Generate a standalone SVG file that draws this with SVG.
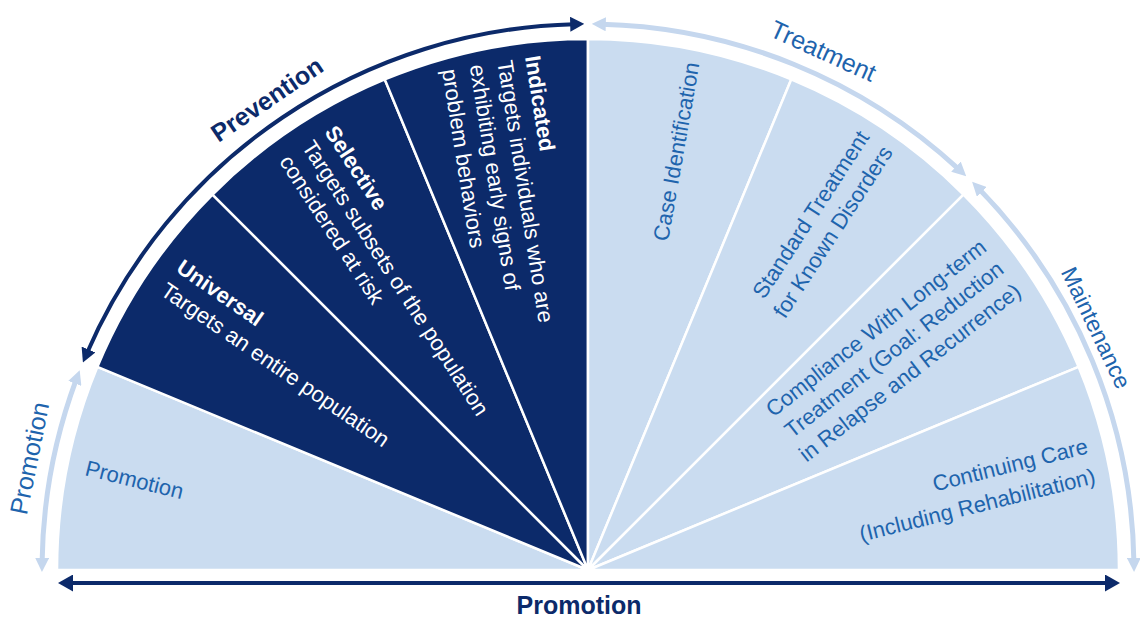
<svg xmlns="http://www.w3.org/2000/svg" width="1140" height="617" viewBox="0 0 1140 617">
<style>
  .dark { fill: #0c2a6a; stroke: #ffffff; stroke-width: 2.5; stroke-linejoin: round; }
  .light { fill: #cadcf0; stroke: #ffffff; stroke-width: 2.5; stroke-linejoin: round; }
  text { font-family: "Liberation Sans", Arial, sans-serif; }
  .wt { fill: #ffffff; font-size: 22px; }
  .bt { fill: #1e64ad; font-size: 22px; }
  .b { font-weight: bold; }
  .arcd { fill: none; stroke: #0c2a6a; stroke-width: 4; marker-start: url(#ad); marker-end: url(#ad); }
  .arcl { fill: none; stroke: #c5d7ee; stroke-width: 5; marker-start: url(#al); marker-end: url(#al); }
  .lbl { font-size: 25px; text-anchor: middle; }
</style>
<defs>
  <marker id="ad" viewBox="0 0 14 15" refX="4" refY="7.5" markerWidth="14" markerHeight="15" markerUnits="userSpaceOnUse" orient="auto-start-reverse">
    <path d="M0,0 L14,7.5 L0,15 Z" fill="#0c2a6a"/>
  </marker>
  <marker id="al" viewBox="0 0 14 14" refX="4" refY="7" markerWidth="14" markerHeight="14" markerUnits="userSpaceOnUse" orient="auto-start-reverse">
    <path d="M0,0 L14,7 L0,14 Z" fill="#c5d7ee"/>
  </marker>
  <marker id="ab" viewBox="0 0 15 17" refX="5" refY="8.5" markerWidth="15" markerHeight="17" markerUnits="userSpaceOnUse" orient="auto-start-reverse">
    <path d="M0,0 L15,8.5 L0,17 Z" fill="#0c2a6a"/>
  </marker>
</defs>

<g id="promotion-sector">
  <path class="light" d="M588,570 L57,570 A531,531 0 0 1 97.42,366.8 Z"/>
  <text class="bt" transform="translate(84,475) rotate(14)">Promotion</text>
</g>
<g id="universal">
  <path class="dark" d="M588,570 L97.42,366.8 A531,531 0 0 1 212.53,194.53 Z"/>
  <text class="wt" transform="translate(175,271) rotate(34.5)"><tspan class="b" x="0" y="0">Universal</tspan><tspan x="0" y="28">Targets an entire population</tspan></text>
</g>
<g id="selective">
  <path class="dark" d="M588,570 L212.53,194.53 A531,531 0 0 1 384.8,79.42 Z"/>
  <text class="wt" transform="translate(324,132) rotate(57)"><tspan class="b" x="0" y="0">Selective</tspan><tspan x="0" y="27">Targets subsets of the population</tspan><tspan x="0" y="54">considered at risk</tspan></text>
</g>
<g id="indicated">
  <path class="dark" d="M588,570 L384.8,79.42 A531,531 0 0 1 588,39 Z"/>
  <text class="wt" transform="translate(525,57) rotate(81)"><tspan class="b" x="0" y="0">Indicated</tspan><tspan x="0" y="28">Targets individuals who are</tspan><tspan x="0" y="56">exhibiting early signs of</tspan><tspan x="0" y="84">problem behaviors</tspan></text>
</g>
<g id="case-identification">
  <path class="light" d="M588,570 L588,39 A531,531 0 0 1 791.2,79.42 Z"/>
  <text class="bt" transform="translate(668,242) rotate(-80)">Case Identification</text>
</g>
<g id="standard-treatment">
  <path class="light" d="M588,570 L791.2,79.42 A531,531 0 0 1 963.47,194.53 Z"/>
  <text class="bt" text-anchor="end" transform="translate(870,137) rotate(-57)"><tspan x="0" y="0">Standard Treatment</tspan><tspan x="0" y="28">for Known Disorders</tspan></text>
</g>
<g id="compliance">
  <path class="light" d="M588,570 L963.47,194.53 A531,531 0 0 1 1078.58,366.8 Z"/>
  <text class="bt" text-anchor="end" transform="translate(988,250) rotate(-38)"><tspan x="0" y="0">Compliance With Long-term</tspan><tspan x="0" y="28">Treatment (Goal: Reduction</tspan><tspan x="0" y="56">in Relapse and Recurrence)</tspan></text>
</g>
<g id="continuing-care">
  <path class="light" d="M588,570 L1078.58,366.8 A531,531 0 0 1 1119,570 Z"/>
  <text class="bt" text-anchor="end" transform="translate(1089,453) rotate(-14)"><tspan x="0" y="0">Continuing Care</tspan><tspan x="0" y="31">(Including Rehabilitation)</tspan></text>
</g>

<g id="connectors">
  <path id="arc-prevention" class="arcd" d="M86.9,353.2 A546,546 0 0 1 574.2,24.2"/>
  <path id="arc-promotion-left" class="arcl" d="M76.2,379.7 A546,546 0 0 0 42.1,561.9"/>
  <path id="arc-treatment" class="arcl" d="M601.8,24.2 A546,546 0 0 1 958.9,169.4"/>
  <path id="arc-maintenance" class="arcl" d="M979.1,189.0 A546,546 0 0 1 1133.9,561.9"/>
  <path id="arrow-promotion-bottom" d="M68,583 L1110,583" fill="none" stroke="#0c2a6a" stroke-width="4" marker-start="url(#ab)" marker-end="url(#ab)"/>
</g>

<g id="arc-labels">
  <text class="lbl b" fill="#0c2a6a" transform="translate(271.8,106.6) rotate(-34.3)">Prevention</text>
  <text class="lbl" fill="#1e64ad" transform="translate(819.7,58.9) rotate(24.4)">Treatment</text>
  <text class="lbl" fill="#1e64ad" style="font-size:23px" transform="translate(1088.9,331.1) rotate(64.5)">Maintenance</text>
  <text class="lbl" fill="#1e64ad" transform="translate(38,460) rotate(-78.7)">Promotion</text>
  <text class="lbl b" fill="#0c2a6a" x="579" y="614">Promotion</text>
</g>
</svg>
